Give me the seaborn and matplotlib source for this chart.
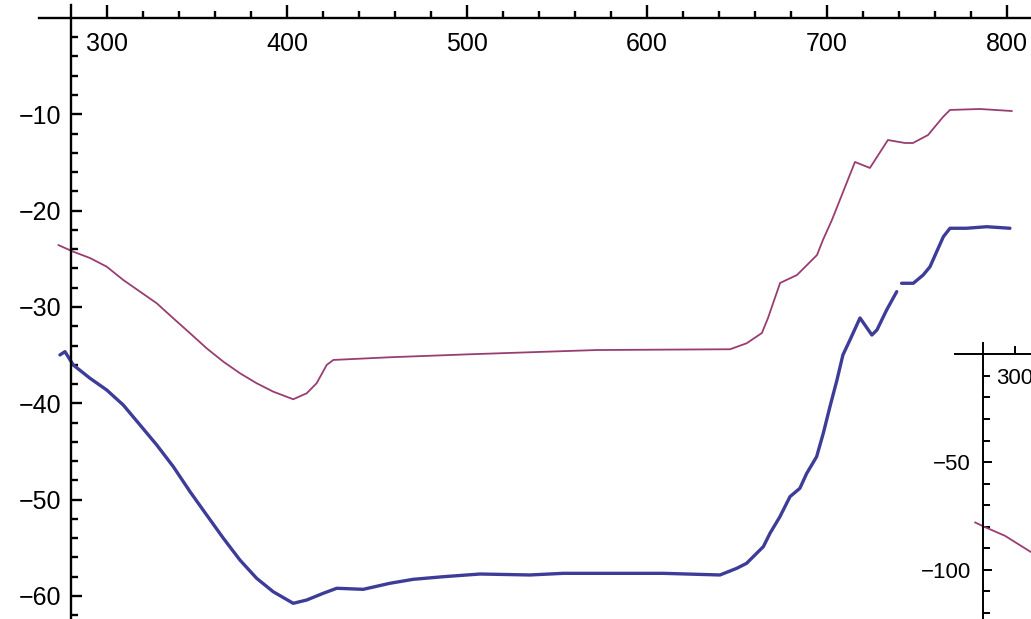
import numpy as np
import pandas as pd
import matplotlib
matplotlib.use("Agg")
import matplotlib.pyplot as plt
import seaborn as sns
from matplotlib.ticker import FixedLocator, MultipleLocator

# ---------------- data ----------------
pink_x = [273.0, 281.3, 290.6, 299.9, 309.1, 318.4, 327.7, 336.9, 346.2, 355.4,
          364.7, 373.9, 383.2, 392.4, 403.5, 411.0, 416.5, 422.1, 425.8, 457.3,
          501.7, 572.1, 646.2, 655.4, 663.9, 667.3, 674.0, 683.4, 694.5, 697.8,
          702.8, 715.6, 723.9, 733.9, 743.4, 747.8, 756.2, 764.5, 768.4, 785.0,
          802.8]
pink_y = [-23.57, -24.26, -24.92, -25.82, -27.20, -28.41, -29.62, -31.18, -32.73, -34.29,
          -35.68, -36.88, -37.92, -38.79, -39.58, -38.96, -37.92, -36.02, -35.50, -35.22,
          -34.91, -34.47, -34.39, -33.77, -32.70, -31.14, -27.51, -26.68, -24.61, -23.05,
          -20.97, -14.95, -15.57, -12.67, -12.98, -12.98, -12.15, -10.28, -9.55, -9.45,
          -9.66]

blue_x = [273.9, 276.7, 281.3, 290.6, 299.9, 309.1, 318.4, 327.7, 336.9, 346.2,
          355.4, 364.7, 373.9, 383.2, 392.4, 403.5, 411.0, 420.2, 427.7, 442.4,
          457.3, 470.2, 486.9, 507.3, 535.0, 553.5, 590.6, 609.1, 640.6, 649.9,
          655.4, 659.1, 664.7, 668.4, 673.9, 679.5, 685.0, 688.8, 694.3, 698.0,
          701.7, 705.6, 708.9, 712.8, 718.4, 725.0, 727.8, 733.2, 738.8,
          741.5, 748.0, 753.5, 757.3, 761.0, 764.7, 768.4, 777.6, 788.8, 801.7]
blue_y = [-34.98, -34.64, -36.02, -37.40, -38.62, -40.18, -42.25, -44.33, -46.58, -49.18,
          -51.59, -54.01, -56.27, -58.17, -59.56, -60.76, -60.42, -59.72, -59.20, -59.31,
          -58.68, -58.27, -58.00, -57.72, -57.82, -57.65, -57.65, -57.65, -57.82, -57.13,
          -56.61, -55.92, -54.88, -53.49, -51.77, -49.69, -48.82, -47.27, -45.54, -43.11,
          -40.35, -37.58, -34.98, -33.43, -31.14, -32.91, -32.39, -30.31, -28.41,
          -27.54, -27.54, -26.68, -25.82, -24.26, -22.71, -21.83, -21.83, -21.67, -21.83]
# the blue trace has a small break near 740
blue_seg = [0] * 49 + [1] * 10

inset_x = [236.9, 250.0, 284.2, 325.2]
inset_y = [-77.96, -79.80, -84.20, -91.75]

x_major = [300, 400, 500, 600, 700, 800]
y_major = [-10, -20, -30, -40, -50, -60]
inset_x_major = [300]
inset_y_major = [-50, -100]

# ---------------- style ----------------
sns.set_style("white")
plt.rcParams["font.family"] = ["Liberation Sans", "DejaVu Sans"]

BLUE = (0.24, 0.24, 0.6)
PINK = (0.6, 0.24, 0.442)

fig = plt.figure(figsize=(10.31, 6.19), dpi=100)
ax = fig.add_axes([0, 0, 1, 1])
ax.set_facecolor("white")

df_pink = pd.DataFrame({"x": pink_x, "y": pink_y})
df_blue = pd.DataFrame({"x": blue_x, "y": blue_y, "seg": blue_seg})

sns.lineplot(data=df_blue, x="x", y="y", units="seg", estimator=None, sort=False,
             color=BLUE, linewidth=2.4, ax=ax)
sns.lineplot(data=df_pink, x="x", y="y", estimator=None, sort=False,
             color=PINK, linewidth=1.3, ax=ax)

ax.set_xlim(240.6, 813.4)
ax.set_ylim(-62.39, 1.864)
ax.set_xlabel("")
ax.set_ylabel("")

for s in ["top", "right"]:
    ax.spines[s].set_visible(False)
ax.spines["left"].set_position(("data", 280))
ax.spines["bottom"].set_position(("data", 0))
ax.spines["left"].set_bounds(-62.39, 1.35)
ax.spines["bottom"].set_bounds(262.3, 813.4)
for s in ["left", "bottom"]:
    ax.spines[s].set_color("black")
    ax.spines[s].set_linewidth(1.7)

ax.xaxis.set_major_locator(FixedLocator(x_major))
ax.xaxis.set_minor_locator(FixedLocator([v for v in range(300, 821, 20) if v % 100]))
ax.yaxis.set_major_locator(FixedLocator(y_major))
ax.yaxis.set_minor_locator(FixedLocator([v for v in range(-62, 0, 2) if v % 10]))
ax.tick_params(axis="both", which="both", direction="in", color="black",
               labelsize=18, labelcolor="black")
ax.tick_params(axis="x", which="major", length=9.5, width=1.7, pad=10)
ax.tick_params(axis="x", which="minor", length=5, width=1.7)
ax.tick_params(axis="y", which="major", length=8, width=1.7, pad=7)
ax.tick_params(axis="y", which="minor", length=5, width=1.7)
ax.xaxis.set_ticks_position("bottom")
ax.yaxis.set_ticks_position("left")
ax.grid(False)

# ---------------- inset ----------------
W, H = 1031, 619
ax2 = fig.add_axes([955 / W, 0, 76 / W, (619 - 340) / H])
ax2.set_facecolor("none")
df_in = pd.DataFrame({"x": inset_x, "y": inset_y})
sns.lineplot(data=df_in, x="x", y="y", estimator=None, sort=False,
             color=PINK, linewidth=1.3, ax=ax2)
ax2.set_xlim(205.4, 325.2)
ax2.set_ylim(-122.8, 6.66)
ax2.set_xlabel("")
ax2.set_ylabel("")
for s in ["top", "right"]:
    ax2.spines[s].set_visible(False)
ax2.spines["left"].set_position(("data", 250))
ax2.spines["bottom"].set_position(("data", 0))
ax2.spines["left"].set_bounds(-122.8, 5.4)
ax2.spines["bottom"].set_bounds(205.4, 325.2)
for s in ["left", "bottom"]:
    ax2.spines[s].set_color("black")
    ax2.spines[s].set_linewidth(1.4)
ax2.xaxis.set_major_locator(FixedLocator(inset_x_major))
ax2.yaxis.set_major_locator(FixedLocator(inset_y_major))
ax2.yaxis.set_minor_locator(FixedLocator([v for v in range(-120, 0, 10) if v % 50]))
ax2.tick_params(axis="both", which="both", direction="in", color="black",
                labelsize=16, labelcolor="black")
ax2.tick_params(axis="x", which="major", length=6, width=1.4, pad=10)
ax2.tick_params(axis="y", which="major", length=6.5, width=1.4, pad=9)
ax2.tick_params(axis="y", which="minor", length=5, width=1.4)
ax2.xaxis.set_ticks_position("bottom")
ax2.yaxis.set_ticks_position("left")
ax2.grid(False)

fig.savefig("out.png", dpi=100, facecolor="white")
